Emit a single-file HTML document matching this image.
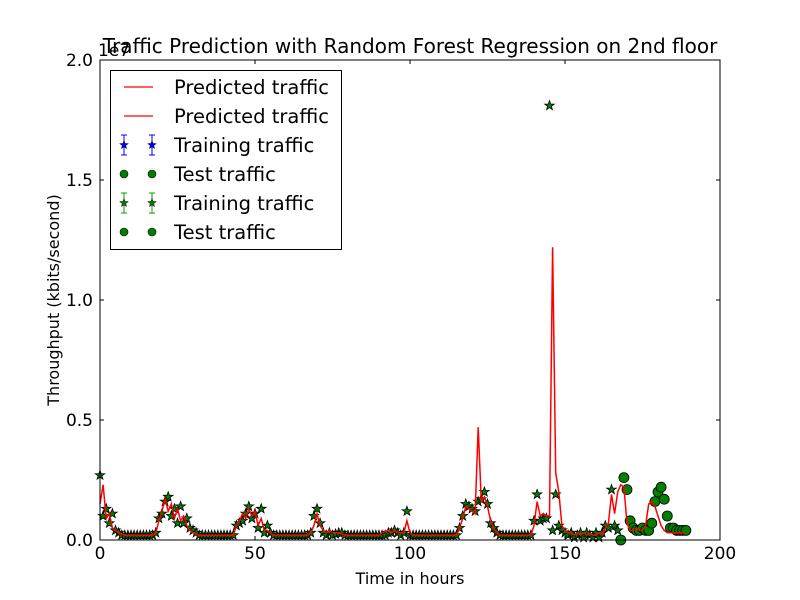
<!DOCTYPE html>
<html><head><meta charset="utf-8">
<style>
html,body{margin:0;padding:0;background:#fff;}
svg{display:block;font-family:"DejaVu Sans","Liberation Sans",sans-serif;}
</style></head>
<body>
<svg id="chart" width="800" height="600" viewBox="0 0 800 600">
  <rect width="800" height="600" fill="#fff"/>
  <text x="410" y="53" font-size="20" text-anchor="middle">Traffic Prediction with Random Forest Regression on 2nd floor</text>
  <g id="plot"></g>
  <rect x="100" y="60" width="620" height="480" fill="none" stroke="#000" stroke-width="1"/>
  <g id="axes"></g>
  <text x="410" y="584" font-size="16" text-anchor="middle">Time in hours</text>
  <text transform="translate(59,300) rotate(-90)" font-size="16" text-anchor="middle">Throughput (kbits/second)</text>
  <text x="98" y="56" font-size="17">1e7</text>
  <g id="legend"></g>
</svg>
<script>
const trainStart = 0;
const trainVals = [2.7,1.0,1.3,0.7,1.1,0.4,0.3,0.2,0.2,0.2,0.2,0.2,0.2,0.2,0.2,0.2,0.2,0.2,0.3,0.9,1.1,1.6,1.8,1.0,1.3,0.7,1.4,0.7,0.9,0.5,
0.4,0.3,0.2,0.2,0.2,0.2,0.2,0.2,0.2,0.2,0.2,0.2,0.2,0.2,0.6,0.7,0.8,1.1,1.4,0.9,1.1,0.5,1.3,0.3,0.6,0.3,0.2,0.2,0.2,0.2,
0.2,0.2,0.2,0.2,0.2,0.2,0.2,0.2,0.3,1.0,1.3,0.7,0.3,0.2,0.3,0.2,0.25,0.3,0.3,0.2,0.2,0.2,0.2,0.2,0.2,0.2,0.2,0.2,0.2,0.2,
0.2,0.2,0.2,0.3,0.3,0.4,0.3,0.2,0.3,1.2,0.2,0.2,0.2,0.2,0.2,0.2,0.2,0.2,0.2,0.2,0.2,0.2,0.2,0.2,0.2,0.2,0.5,1.0,1.5,1.4,
1.3,1.2,1.6,1.7,2.0,1.5,0.7,0.5,0.3,0.2,0.2,0.2,0.2,0.2,0.2,0.2,0.2,0.2,0.2,0.2,0.8,1.9,0.8,0.9,0.9,18.1,0.4,1.9,0.6,0.4,
0.3,0.2,0.3,0.1,0.2,0.3,0.1,0.3,0.2,0.1,0.3,0.1,0.3,0.6,0.5,2.1,0.6,0.4];
const testStart = 168;
const testVals = [0.0,2.6,2.1,0.8,0.5,0.4,0.4,0.5,0.4,0.4,0.7,1.6,2.0,2.2,1.7,1.0,0.5,0.5,0.4,0.4,0.4,0.4];
const predVals = [1.5,2.3,0.9,1.1,0.5,0.4,0.3,0.25,0.2,0.2,0.2,0.2,0.2,0.2,0.2,0.2,0.2,0.2,0.3,0.8,1.2,1.7,1.2,1.5,0.9,1.3,0.8,1.0,0.6,0.4,
0.3,0.25,0.2,0.2,0.2,0.2,0.2,0.2,0.2,0.2,0.2,0.2,0.2,0.2,0.6,0.8,1.1,0.9,1.3,1.0,1.2,0.6,0.9,0.4,0.4,0.3,0.2,0.2,0.2,0.2,
0.2,0.2,0.2,0.2,0.2,0.2,0.2,0.2,0.3,0.6,1.1,0.6,0.4,0.3,0.4,0.3,0.3,0.3,0.25,0.2,0.2,0.2,0.2,0.2,0.2,0.2,0.2,0.2,0.2,0.2,
0.2,0.3,0.35,0.4,0.3,0.4,0.3,0.3,0.3,0.8,0.3,0.2,0.2,0.2,0.2,0.2,0.2,0.2,0.2,0.2,0.2,0.2,0.2,0.2,0.2,0.2,0.5,0.9,1.4,1.3,
1.2,1.1,4.7,1.6,1.8,1.4,0.8,0.5,0.3,0.2,0.2,0.2,0.2,0.2,0.2,0.2,0.2,0.2,0.2,0.2,0.6,1.6,1.0,1.1,1.0,1.0,12.2,2.8,2.0,0.6,
0.4,0.3,0.3,0.2,0.3,0.2,0.3,0.2,0.3,0.2,0.2,0.3,0.2,0.5,0.7,1.9,1.1,2.0,2.3,2.2,0.7,0.4,0.4,0.5,0.4,0.4,0.6,1.5,1.6,1.4,
1.0,0.6,0.4,0.3,0.3,0.3,0.3,0.3,0.3,0.3];
const xTicks = [0,50,100,150,200];
const xTickLabels = ["0","50","100","150","200"];
const yTicks = [0,0.5,1.0,1.5,2.0];
const yTickLabels = ["0.0","0.5","1.0","1.5","2.0"];
const legendLabels = ["Predicted traffic","Predicted traffic","Training traffic","Test traffic","Training traffic","Test traffic"];

const NS="http://www.w3.org/2000/svg";
const X0=100,X1=720,Y0=540,Y1=60;
function sx(h){return X0+(h-0)/200*(X1-X0);}
function sy(v){return Y0-(v/10)/2.0*(Y0-Y1);}
function mk(tag,attrs,parent){const e=document.createElementNS(NS,tag);for(const k in attrs)e.setAttribute(k,attrs[k]);parent.appendChild(e);return e;}
function starPts(cx,cy,r){let p=[];for(let i=0;i<10;i++){const a=-Math.PI/2+i*Math.PI/5;const rr=i%2?r*0.4:r;p.push((cx+rr*Math.cos(a)).toFixed(1)+","+(cy+rr*Math.sin(a)).toFixed(1));}return p.join(" ");}

const plot=document.getElementById('plot');
trainVals.forEach((v,i)=>{
  const s=mk('polygon',{points:starPts(sx(trainStart+i),sy(v),5),fill:'#007f00',stroke:'#000','stroke-width':0.8},plot);
  
  
});
testVals.forEach((v,i)=>{
  const c=mk('circle',{cx:sx(testStart+i),cy:sy(v),r:5,fill:'#007f00',stroke:'#000','stroke-width':0.8},plot);
  
  
});
const pl=mk('polyline',{points:predVals.map((v,i)=>sx(i).toFixed(1)+","+sy(v).toFixed(1)).join(" "),fill:'none',stroke:'#ff0000','stroke-width':1.5},plot);



const axes=document.getElementById('axes');
xTicks.forEach((t,i)=>{
  const x=sx(t);
  mk('line',{x1:x,y1:Y0,x2:x,y2:Y0-4,stroke:'#000'},axes);
  mk('line',{x1:x,y1:Y1,x2:x,y2:Y1+4,stroke:'#000'},axes);
  const tx=mk('text',{x:x,y:559,'font-size':17,'text-anchor':'middle'},axes);
  tx.textContent=xTickLabels[i];
  
  
});
yTicks.forEach((t,i)=>{
  const y=sy(t*10);
  mk('line',{x1:X0,y1:y,x2:X0+4,y2:y,stroke:'#000'},axes);
  mk('line',{x1:X1,y1:y,x2:X1-4,y2:y,stroke:'#000'},axes);
  const tx=mk('text',{x:93,y:y+6,'font-size':17,'text-anchor':'end'},axes);
  tx.textContent=yTickLabels[i];
  
  
});

const lg=document.getElementById('legend');
mk('rect',{x:110.5,y:70.5,width:231,height:179,fill:'#fff',stroke:'#000'},lg);
legendLabels.forEach((lab,i)=>{
  const y=87+i*29;
  const g=mk('g',{},lg);
  
  
  if(i<2){mk('line',{x1:124,y1:y,x2:153,y2:y,stroke:'#ff0000','stroke-width':1.2},g);}
  else if(i===3||i===5){[124,152].forEach(x=>mk('circle',{cx:x,cy:y,r:4,fill:'#007f00',stroke:'#000','stroke-width':0.6},g));}
  else{const col=i===2?'#0000ff':'#00a000';const fc=i===2?'#0000ff':'#007f00';
    [124,152].forEach(x=>{mk('line',{x1:x,y1:y-10,x2:x,y2:y+10,stroke:col},g);mk('line',{x1:x-3,y1:y-10,x2:x+3,y2:y-10,stroke:col},g);mk('line',{x1:x-3,y1:y+10,x2:x+3,y2:y+10,stroke:col},g);mk('polygon',{points:starPts(x,y,4.5),fill:fc,stroke:'#000','stroke-width':0.5},g);});}
  const t=mk('text',{x:174,y:y+7,'font-size':19.5},g);t.textContent=lab;
});
</script>
</body></html>
